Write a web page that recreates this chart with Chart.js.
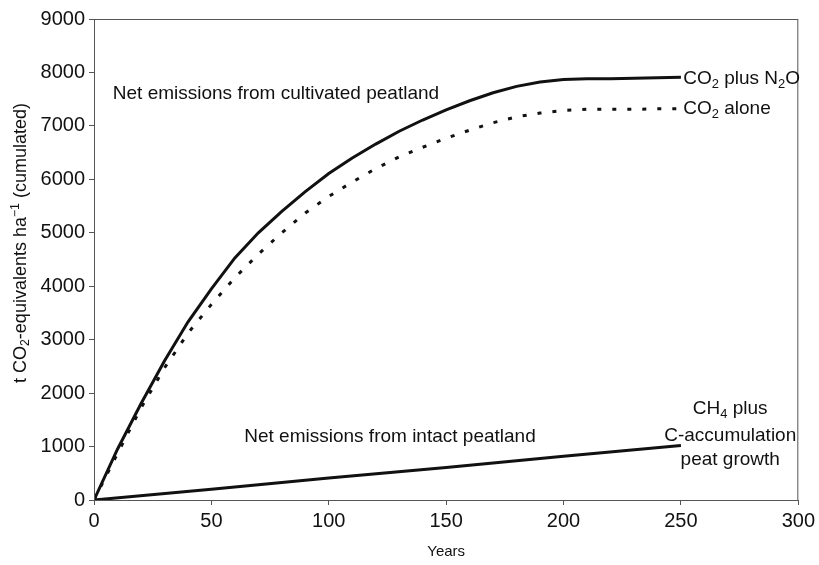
<!DOCTYPE html>
<html>
<head>
<meta charset="utf-8">
<script src="https://cdn.jsdelivr.net/npm/chart.js@4.4.1/dist/chart.umd.min.js"></script>
<style>
  html, body { margin: 0; padding: 0; background: #fff; }
  #wrap { width: 819px; height: 565px; }
</style>
</head>
<body>
<div id="wrap"><canvas id="peatChart" width="819" height="565"></canvas></div>
<script>
// --- datos ---
const years = [0, 10, 20, 30, 40, 50, 60, 70, 80, 90, 100, 110, 120, 130, 140, 150, 160, 170, 180, 190, 200, 210, 220, 230, 240, 250];
const co2PlusN2O = [0, 950, 1800, 2600, 3330, 3950, 4530, 5000, 5400, 5770, 6110, 6400, 6660, 6900, 7110, 7300, 7470, 7620, 7740, 7820, 7870, 7880, 7880, 7890, 7900, 7910];
const co2Alone = [0, 870, 1720, 2470, 3120, 3660, 4160, 4600, 5000, 5370, 5680, 5950, 6200, 6420, 6600, 6770, 6920, 7060, 7170, 7240, 7290, 7310, 7310, 7310, 7320, 7320];
const intactYears = [0, 50, 100, 150, 200, 250];
const intactPeat = [0, 200, 410, 610, 820, 1020];
const xTicks = [0, 50, 100, 150, 200, 250, 300];
const yTicks = [0, 1000, 2000, 3000, 4000, 5000, 6000, 7000, 8000, 9000];

const FONT = "'Liberation Sans', Arial, Helvetica, sans-serif";

function toPoints(xs, ys) {
  return xs.map((x, i) => ({ x: x, y: ys[i] }));
}

// texto con subindices / superindices: partes [texto, 0|'sub'|'sup']
function richWidth(ctx, parts, size) {
  let w = 0;
  parts.forEach(p => {
    ctx.font = (p[1] ? size * 0.68 : size) + 'px ' + FONT;
    w += ctx.measureText(p[0]).width;
  });
  return w;
}

function drawRich(ctx, parts, x, y, size, align) {
  const total = richWidth(ctx, parts, size);
  let cx = align === 'center' ? x - total / 2 : (align === 'right' ? x - total : x);
  ctx.textBaseline = 'middle';
  ctx.textAlign = 'left';
  parts.forEach(p => {
    const small = !!p[1];
    ctx.font = (small ? size * 0.68 : size) + 'px ' + FONT;
    let dy = 0;
    if (p[1] === 'sub') dy = size * 0.28;
    if (p[1] === 'sup') dy = -size * 0.3;
    ctx.fillText(p[0], cx, y + dy);
    cx += ctx.measureText(p[0]).width;
  });
}

const annotations = {
  id: 'annotations',
  afterDraw(chart) {
    const { ctx, chartArea, scales } = chart;
    const x = scales.x, y = scales.y;
    ctx.save();

    // marco completo
    ctx.strokeStyle = '#555';
    ctx.lineWidth = 1;
    ctx.strokeRect(chartArea.left + 0.5, chartArea.top + 0.5, chartArea.right - chartArea.left - 1, chartArea.bottom - chartArea.top);

    ctx.fillStyle = '#111';
    drawRich(ctx, [['Net emissions from cultivated peatland']], x.getPixelForValue(8), y.getPixelForValue(7600), 19, 'left');
    drawRich(ctx, [['CO'], ['2', 'sub'], [' plus N'], ['2', 'sub'], ['O']], x.getPixelForValue(251), y.getPixelForValue(7880), 19, 'left');
    drawRich(ctx, [['CO'], ['2', 'sub'], [' alone']], x.getPixelForValue(251), y.getPixelForValue(7320), 19, 'left');
    drawRich(ctx, [['Net emissions from intact peatland']], x.getPixelForValue(64), y.getPixelForValue(1180), 19, 'left');
    drawRich(ctx, [['CH'], ['4', 'sub'], [' plus']], x.getPixelForValue(271), y.getPixelForValue(1700), 19, 'center');
    drawRich(ctx, [['C-accumulation']], x.getPixelForValue(271), y.getPixelForValue(1210), 19, 'center');
    drawRich(ctx, [['peat growth']], x.getPixelForValue(271), y.getPixelForValue(760), 19, 'center');

    // titulo eje y
    ctx.translate(21, 243);
    ctx.rotate(-Math.PI / 2);
    drawRich(ctx, [['t CO'], ['2', 'sub'], ['-equivalents ha'], ['\u22121', 'sup'], [' (cumulated)']], 0, 0, 18, 'center');
    ctx.restore();
  }
};

new Chart(document.getElementById('peatChart'), {
  type: 'scatter',
  data: {
    datasets: [
      {
        label: 'CO2 plus N2O',
        data: toPoints(years, co2PlusN2O),
        showLine: true,
        borderColor: '#111',
        borderWidth: 3,
        pointRadius: 0,
        tension: 0
      },
      {
        label: 'CO2 alone',
        data: toPoints(years, co2Alone),
        showLine: true,
        borderColor: '#111',
        borderWidth: 3,
        borderDash: [4, 11],
        pointRadius: 0,
        tension: 0
      },
      {
        label: 'Intact peatland',
        data: toPoints(intactYears, intactPeat),
        showLine: true,
        borderColor: '#111',
        borderWidth: 3,
        pointRadius: 0,
        tension: 0
      }
    ]
  },
  options: {
    responsive: false,
    animation: false,
    layout: { padding: { left: 0, right: 20, top: 19, bottom: 0 } },
    plugins: {
      legend: { display: false },
      tooltip: { enabled: false }
    },
    scales: {
      x: {
        type: 'linear',
        min: 0,
        max: 300,
        afterBuildTicks: s => { s.ticks = xTicks.map(v => ({ value: v })); },
        afterFit: s => { s.height = 65; },
        ticks: { color: '#111', font: { family: FONT, size: 20 }, padding: 4, maxRotation: 0, callback: v => String(v) },
        grid: { drawOnChartArea: false, tickLength: 5, color: '#555' },
        border: { color: '#555' },
        title: { display: true, text: 'Years', color: '#111', font: { family: FONT, size: 15 }, padding: { top: 7 } }
      },
      y: {
        min: 0,
        max: 9000,
        afterBuildTicks: s => { s.ticks = yTicks.map(v => ({ value: v })); },
        afterFit: s => { s.width = 94; },
        ticks: { color: '#111', font: { family: FONT, size: 20 }, padding: 4, callback: v => String(v) },
        grid: { drawOnChartArea: false, tickLength: 5, color: '#555' },
        border: { color: '#555' }
      }
    }
  },
  plugins: [annotations]
});
</script>
</body>
</html>
